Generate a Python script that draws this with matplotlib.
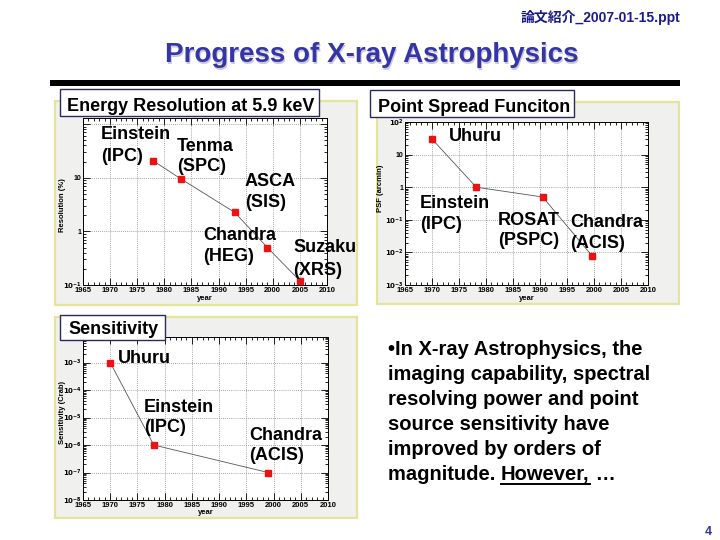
import matplotlib
matplotlib.use("Agg")
import matplotlib.pyplot as plt
from matplotlib.patches import Rectangle
from matplotlib.lines import Line2D
from matplotlib.ticker import LogLocator, MultipleLocator, FuncFormatter, NullFormatter
import numpy as np

# ---------------- data ----------------
res_years = [1978, 1983, 1993, 1999, 2005]
res_values = [20.5, 9.6, 2.25, 0.5, 0.12]
res_labels = ["Einstein\n(IPC)", "Tenma\n(SPC)", "ASCA\n(SIS)", "Chandra\n(HEG)", "Suzaku\n(XRS)"]

psf_years = [1970, 1978.2, 1990.5, 1999.6]
psf_values = [30, 1.0, 0.5, 0.008]
psf_labels = ["Uhuru", "Einstein\n(IPC)", "ROSAT\n(PSPC)", "Chandra\n(ACIS)"]

sens_years = [1970, 1978, 1999]
sens_values = [1e-3, 1e-6, 1e-7]
sens_labels = ["Uhuru", "Einstein\n(IPC)", "Chandra\n(ACIS)"]

year_ticks = [1965, 1970, 1975, 1980, 1985, 1990, 1995, 2000, 2005, 2010]

title = "Progress of X-ray Astrophysics"
header = "論文紹介_2007-01-15.ppt"
bullet_lines = ["•In X-ray Astrophysics, the",
                "imaging capability, spectral",
                "resolving power and point",
                "source sensitivity have",
                "improved by orders of",
                "magnitude. "]
bullet_under = "However,"
bullet_tail = " …"

# ---------------- layout ----------------
W, H = 720, 540
fig = plt.figure(figsize=(7.2, 5.4), dpi=100)
fig.patch.set_facecolor("white")

FONT = ["Liberation Sans", "DejaVu Sans"]
CJK = ["Liberation Sans", "Noto Sans CJK JP", "DejaVu Sans"]


def fx(x):
    return x / W


def fy(y):
    return 1 - y / H


def rect(x0, y0, x1, y1, **kw):
    r = Rectangle((fx(x0), fy(y1)), (x1 - x0) / W, (y1 - y0) / H,
                  transform=fig.transFigure, **kw)
    fig.add_artist(r)
    return r


def txt(x, y, s, size=13, color="black", ha="left", va="baseline", z=6, family=FONT, **kw):
    return fig.text(fx(x), fy(y), s, fontsize=size, color=color, ha=ha, va=va,
                    fontweight="bold", family=family, zorder=z, **kw)


# header + title
txt(680, 22, header, size=10, color="#1a1a8c", ha="right", family=CJK)
txt(373, 63.5, title, size=20, color="#cacad8", ha="center", z=5)
txt(371.5, 62, title, size=20, color="#3535a8", ha="center", z=6)
rect(50, 80, 680, 86, facecolor="black", edgecolor="none", zorder=4)

# panel backgrounds
panel_face = "#f0f0ee"
panel_edge = "#e4e49a"
rect(55, 101, 357, 305, facecolor=panel_face, edgecolor=panel_edge, lw=1.6, zorder=-2)
rect(377, 102, 679, 304, facecolor=panel_face, edgecolor=panel_edge, lw=1.6, zorder=-2)
rect(55, 317, 357, 518, facecolor=panel_face, edgecolor=panel_edge, lw=1.6, zorder=-2)


def make_fmt(max_label):
    def log_fmt(v, pos):
        e = int(round(np.log10(v)))
        if v > max_label * 1.001:
            return ""
        if e == 0:
            return "1"
        if e == 1:
            return "10"
        return r"$\mathbf{10^{%d}}$" % e
    return FuncFormatter(log_fmt)


def make_axes(x0, y0, x1, y1, years, values, ylim, ylabel, ylab_x, ylab_y, max_label):
    ax = fig.add_axes([fx(x0), fy(y1), (x1 - x0) / W, (y1 - y0) / H])
    ax.set_facecolor("white")
    ax.set_xlim(1965, 2010)
    ax.set_yscale("log")
    ax.set_ylim(*ylim)
    ax.set_xticks(year_ticks)
    ax.set_xticklabels([str(t) for t in year_ticks])
    ax.xaxis.set_minor_locator(MultipleLocator(1))
    ax.yaxis.set_major_locator(LogLocator(base=10, numticks=20))
    ax.yaxis.set_minor_locator(LogLocator(base=10, subs=np.arange(2, 10), numticks=20))
    ax.yaxis.set_major_formatter(make_fmt(max_label))
    ax.yaxis.set_minor_formatter(NullFormatter())
    ax.tick_params(which="both", direction="in", top=True, right=True,
                   pad=1.5, width=0.6)
    ax.tick_params(axis="x", labelsize=5.5)
    ax.tick_params(axis="y", labelsize=5, pad=1)
    ax.tick_params(which="major", length=5)
    ax.tick_params(which="minor", length=2.5)
    for lab in ax.get_xticklabels() + ax.get_yticklabels():
        lab.set_fontweight("bold")
        lab.set_family(FONT)
    for sp in ax.spines.values():
        sp.set_linewidth(0.7)
    ax.grid(True, which="major", linestyle=(0, (1, 1.5)), color="#888888", linewidth=0.6)
    ax.plot(years, values, color="#555555", lw=0.6, zorder=3)
    ax.plot(years, values, ls="none", marker="s", ms=4.4, mfc="#ee1111", mec="#ee1111", zorder=4)
    fig.text(fx((x0 + x1) / 2), fy(y1 + 13), "year", fontsize=5.5, fontweight="bold",
             family=FONT, ha="center", va="center")
    fig.text(fx(ylab_x), fy(ylab_y), ylabel, fontsize=5.5, fontweight="bold",
             family=FONT, ha="center", va="center", rotation=90)
    return ax


ax1 = make_axes(83, 118, 327, 285, res_years, res_values, (0.1, 130),
                "Resolution (%)", 62, 205, 10)
ax2 = make_axes(405, 122, 648, 285, psf_years, psf_values, (1e-3, 1e2),
                "PSF (arcmin)", 381, 188, 100)
ax3 = make_axes(83, 337, 328, 500, sens_years, sens_values, (1e-8, 8.5e-3),
                "Sensitivity (Crab)", 62, 412, 1e-3)

# point labels: (left x, baseline y of first line, line gap) in pixels
res_pos = [(101, 139, 22), (177, 151, 20), (245, 186, 21), (203, 240, 21), (293, 252, 23)]
psf_pos = [(449, 141, 0), (420, 208, 21), (498, 225, 20), (570, 227, 21)]
sens_pos = [(118, 363, 0), (144, 412, 20), (249, 440, 20)]

for labels, poss in ((res_labels, res_pos), (psf_labels, psf_pos), (sens_labels, sens_pos)):
    for lab, (x, y, gap) in zip(labels, poss):
        for i, line in enumerate(lab.split("\n")):
            txt(x, y + i * gap, line, size=13)

# panel title boxes
rect(60, 89, 319, 116, facecolor="white", edgecolor="#2a2a60", lw=1.0, zorder=5)
txt(67, 111, "Energy Resolution at 5.9 keV", size=13)
rect(370, 90, 574, 117, facecolor="white", edgecolor="#2a2a60", lw=1.0, zorder=5)
txt(378, 112, "Point Spread Funciton", size=13)
rect(60, 315, 165, 340, facecolor="white", edgecolor="#2a2a60", lw=1.0, zorder=5)
txt(68, 334, "Sensitivity", size=13)

# bullet text
bx, by0, bgap = 388, 355, 25
for i, line in enumerate(bullet_lines):
    t = txt(bx, by0 + i * bgap, line, size=14.5)
last = t
fig.canvas.draw()
r = fig.canvas.get_renderer()
bb = last.get_window_extent(r)
ux0 = bb.x1
t2 = fig.text(ux0 / W, fy(by0 + 5 * bgap), bullet_under, fontsize=14.5, fontweight="bold",
              family=FONT, ha="left", va="baseline", zorder=6)
bb2 = t2.get_window_extent(r)
t3 = fig.text(bb2.x1 / W, fy(by0 + 5 * bgap), bullet_tail, fontsize=14.5, fontweight="bold",
              family=FONT, ha="left", va="baseline", zorder=6)
uy = fy(by0 + 5 * bgap + 3.5)
fig.add_artist(Line2D([bb2.x0 / W, bb2.x1 / W], [uy, uy], color="black", lw=1.4,
                      transform=fig.transFigure, zorder=6))

# page number
txt(708, 535, "4", size=9, color="#3333aa", ha="center")

fig.savefig("out.png", dpi=100)
